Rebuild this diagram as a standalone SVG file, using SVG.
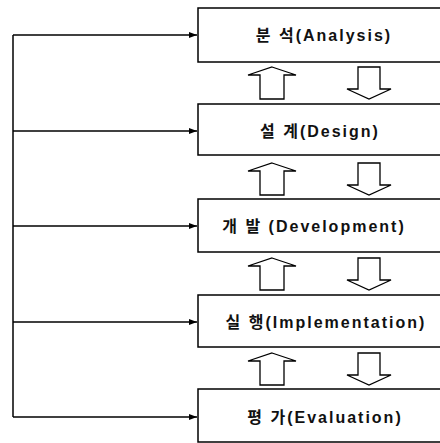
<svg xmlns="http://www.w3.org/2000/svg" width="440" height="443" viewBox="0 0 440 443">
<style>
.box{fill:#fff;stroke:#000;stroke-width:1.5}
.lbl{font-family:"Liberation Sans","Noto Sans CJK KR",sans-serif;font-weight:bold;font-size:16px;letter-spacing:2px;text-anchor:middle;fill:#111}
.conn{fill:none;stroke:#000;stroke-width:1.5}
.blk{fill:#fff;stroke:#000;stroke-width:1.3;stroke-linejoin:miter}
</style>
<defs>
<marker id="ah" viewBox="0 0 8 6" refX="8" refY="3" markerWidth="8" markerHeight="6" markerUnits="userSpaceOnUse" orient="auto">
<path d="M0,0 L8,3 L0,6 Z" fill="#000"/>
</marker>
<path id="up" class="blk" d="M272,0 L296,8 L284,8 L284,32 L260,32 L260,8 L248,8 Z"/>
<path id="down" class="blk" d="M358,0 L380,0 L380,22 L391,22 L369,32 L347,22 L358,22 Z"/>
</defs>
<rect width="440" height="443" fill="#fff"/>
<g id="connectors">
<path class="conn" d="M13,35 V417"/>
<path class="conn" d="M13,35 H197" marker-end="url(#ah)"/>
<path class="conn" d="M13,131 H197" marker-end="url(#ah)"/>
<path class="conn" d="M13,226 H197" marker-end="url(#ah)"/>
<path class="conn" d="M13,322 H197" marker-end="url(#ah)"/>
<path class="conn" d="M13,417 H197" marker-end="url(#ah)"/>
</g>
<g id="analysis"><rect class="box" x="198" y="8" width="260" height="54"/><text class="lbl" x="324" y="41">분 석(Analysis)</text></g>
<g id="design"><rect class="box" x="198" y="104" width="260" height="51"/><text class="lbl" x="320" y="137">설 계(Design)</text></g>
<g id="development"><rect class="box" x="198" y="199" width="260" height="53"/><text class="lbl" x="314" y="232">개 발 (Development)</text></g>
<g id="implementation"><rect class="box" x="198" y="295" width="260" height="52"/><text class="lbl" x="326" y="328">실 행(Implementation)</text></g>
<g id="evaluation"><rect class="box" x="198" y="389" width="260" height="53"/><text class="lbl" x="325" y="423">평 가(Evaluation)</text></g>
<g id="flow-arrows">
<use href="#up" y="67"/><use href="#down" y="67"/>
<use href="#up" y="163"/><use href="#down" y="163"/>
<use href="#up" y="258"/><use href="#down" y="258"/>
<use href="#up" y="353"/><use href="#down" y="353"/>
</g>
</svg>
